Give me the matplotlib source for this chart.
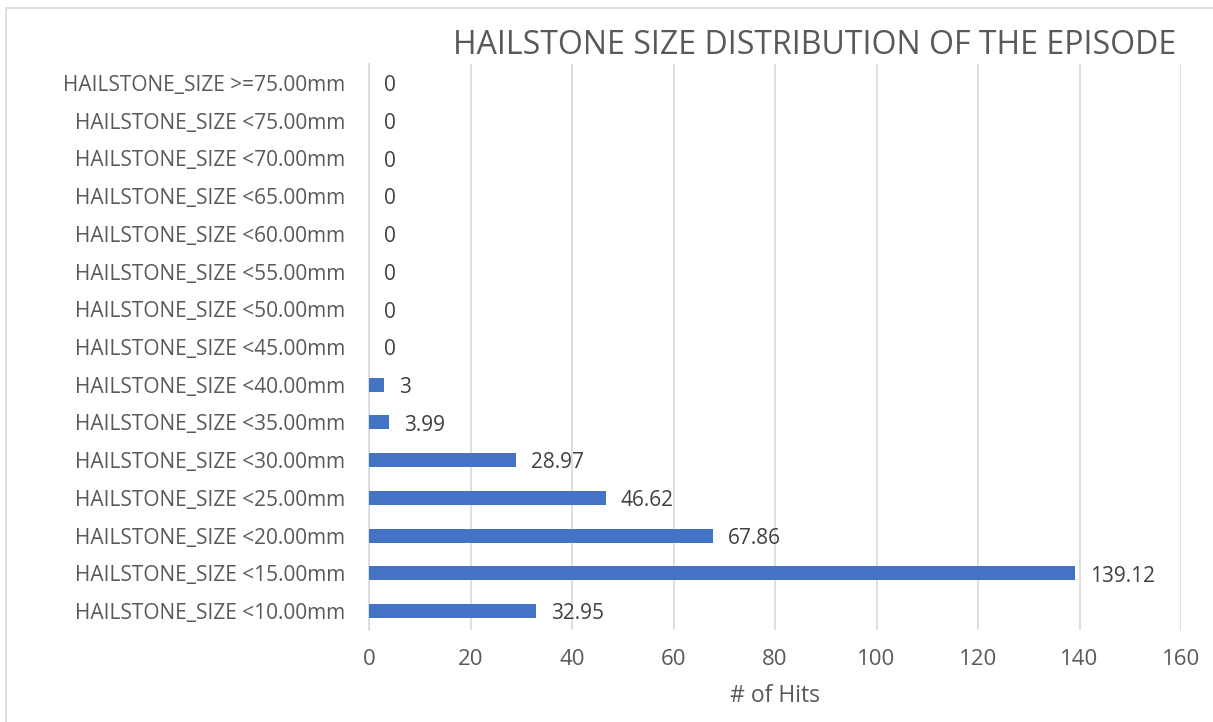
import matplotlib.pyplot as plt
from matplotlib.patches import Rectangle

plt.rcParams['font.family'] = ['Open Sans', 'DejaVu Sans']

sizes = ["<10.00mm", "<15.00mm", "<20.00mm", "<25.00mm", "<30.00mm",
         "<35.00mm", "<40.00mm", "<45.00mm", "<50.00mm", "<55.00mm",
         "<60.00mm", "<65.00mm", "<70.00mm", "<75.00mm", ">=75.00mm"]
labels = ["HAILSTONE_SIZE " + s for s in sizes]
hits = [32.95, 139.12, 67.86, 46.62, 28.97, 3.99, 3, 0, 0, 0, 0, 0, 0, 0, 0]
value_text = ["32.95", "139.12", "67.86", "46.62", "28.97", "3.99", "3",
              "0", "0", "0", "0", "0", "0", "0", "0"]

text_col = "#595959"
grid_col = "#D9D9D9"

fig = plt.figure(figsize=(12.13, 7.22), dpi=100)
ax = fig.add_axes([369 / 1213, 1 - 630 / 722, 812 / 1213, 566 / 722])

# chart border
fig.patches.append(Rectangle((6 / 1213, -0.01), 1.0, 1 - 8 / 722 + 0.01,
                             transform=fig.transFigure, fill=False,
                             edgecolor=grid_col, linewidth=1.2))

pos = list(range(len(labels)))
ax.barh(pos, hits, height=0.37, color="#4472C4", zorder=3)

for y, v, t in zip(pos, hits, value_text):
    ax.annotate(t, (v, y), xytext=(10.5, -2), textcoords="offset points",
                ha="left", va="center", fontsize=15, color="#404040")

ax.set_xlim(0, 160)
ax.set_ylim(-0.5, len(labels) - 0.5)
ax.set_xticks(range(0, 161, 20))
ax.set_yticks(pos)
ax.set_yticklabels(labels)
ax.tick_params(axis="both", length=0, colors=text_col)
ax.tick_params(axis="y", pad=17, labelsize=15)
ax.tick_params(axis="x", pad=14, labelsize=16)
ax.grid(axis="x", color=grid_col, linewidth=1.2, zorder=0)
for side in ["top", "right", "bottom"]:
    ax.spines[side].set_visible(False)
ax.spines["left"].set_color(grid_col)
ax.spines["left"].set_linewidth(1.2)

ax.set_xlabel("# of Hits", fontsize=16.5, color=text_col, labelpad=10)
fig.text(815 / 1213, 1 - 45 / 722, "HAILSTONE SIZE DISTRIBUTION OF THE EPISODE",
         ha="center", va="center", fontsize=23, color=text_col)

fig.savefig("out.png", dpi=100)
